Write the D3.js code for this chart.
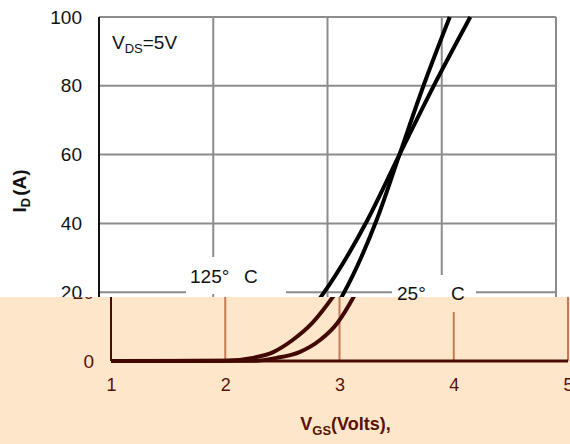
<!DOCTYPE html>
<html><head><meta charset="utf-8">
<script src="https://cdn.jsdelivr.net/npm/d3@7"></script>
<style>body{margin:0;background:#fff}svg{display:block}text{font-family:"Liberation Sans",Arial,sans-serif}</style>
</head><body>
<script>
// ---- data ----
const xTicks = [1, 2, 3, 4, 5];
const yTicks = [0, 20, 40, 60, 80, 100];
const vgs125 = [1.0, 2.0, 2.24, 2.42, 2.59, 2.76, 2.95, 3.35, 3.63, 3.93, 4.25];
const id125  = [0, 0.05, 0.9, 2.6, 6.1, 11.0, 19.0, 41, 60, 80, 100];
const vgs25  = [1.0, 2.25, 2.45, 2.65, 2.83, 2.98, 3.13, 3.43, 3.63, 3.84, 4.07];
const id25   = [0, 0.05, 0.9, 2.6, 6.1, 11.0, 19.0, 41, 60, 80, 100];
const seriesTemps = ["125°", "25°"];
const tempUnit = "C";

const W = 570, H = 444, SPLIT = 297, SHIFT = 12;
const svg = d3.select("body").append("svg").attr("width", W).attr("height", H);
svg.append("rect").attr("width", W).attr("height", H).attr("fill", "#fff");
const defs = svg.append("defs");
defs.append("clipPath").attr("id", "cTop").append("rect").attr("x", 0).attr("y", 0).attr("width", W).attr("height", SPLIT);
defs.append("clipPath").attr("id", "cBot").append("rect").attr("x", 0).attr("y", SPLIT).attr("width", W).attr("height", H - SPLIT);

const x = d3.scaleLinear().domain([1, 5]).range([99, 556]);
const y = d3.scaleLinear().domain([0, 100]).range([361, 17]);

const s125 = vgs125.map((v, i) => [v, id125[i]]);
const s25 = vgs25.map((v, i) => [v, id25[i]]);
const line = d3.line().x(d => x(d[0])).y(d => y(d[1])).curve(d3.curveMonotoneX);

function tempLabel(sel, x0, xc, yb, temp, color) {
  const t = sel.append("text").attr("y", yb).attr("font-size", 19).attr("fill", color);
  t.append("tspan").attr("x", x0).text(temp);
  t.append("tspan").attr("x", xc).text(tempUnit);
}

function drawChart(g, p, withLabelText) {
  g.selectAll(".vg").data(xTicks.slice(1)).join("line")
    .attr("x1", d => x(d)).attr("x2", d => x(d)).attr("y1", y(0)).attr("y2", y(100))
    .attr("stroke", p.grid).attr("stroke-width", 2);
  g.selectAll(".hg").data(yTicks.slice(1)).join("line")
    .attr("x1", x(1)).attr("x2", x(5)).attr("y1", d => y(d)).attr("y2", d => y(d))
    .attr("stroke", p.grid).attr("stroke-width", 2);
  g.append("rect").attr("x", 186).attr("y", 257).attr("width", 100).attr("height", 37).attr("fill", p.bg);
  g.append("rect").attr("x", 392).attr("y", 275).attr("width", 84).attr("height", 37).attr("fill", p.bg);
  if (withLabelText) tempLabel(g, 190, 244, 283, seriesTemps[0], p.text);
  g.append("line").attr("x1", x(1)).attr("x2", x(1)).attr("y1", y(0)).attr("y2", y(100))
    .attr("stroke", p.axis).attr("stroke-width", 2);
  g.append("line").attr("x1", x(1)).attr("x2", x(5)).attr("y1", y(0)).attr("y2", y(0))
    .attr("stroke", p.axis).attr("stroke-width", 3);
  [s125, s25].forEach(s => {
    g.append("path").attr("d", line(s)).attr("fill", "none")
      .attr("stroke", p.curve).attr("stroke-width", 4).attr("stroke-linejoin", "round");
  });
  const ya = g.append("g").attr("transform", `translate(${x(1)},0)`)
    .call(d3.axisLeft(y).tickValues(yTicks).tickSize(0).tickPadding(17).tickFormat(d3.format("d")));
  ya.select(".domain").remove();
  ya.selectAll("text").attr("font-size", 19).attr("fill", p.text).style("font-family", "Liberation Sans, Arial, sans-serif");
  const xa = g.append("g").attr("transform", `translate(0,${y(0)})`)
    .call(d3.axisBottom(x).tickValues(xTicks).tickSize(0).tickPadding(17).tickFormat(d3.format("d")));
  xa.select(".domain").remove();
  xa.selectAll("text").attr("font-size", 18).attr("fill", p.text).style("font-family", "Liberation Sans, Arial, sans-serif");
  const vt = g.append("text").attr("x", 112).attr("y", 49).attr("font-size", 19).attr("fill", p.text);
  vt.append("tspan").text("V");
  vt.append("tspan").attr("font-size", 13).attr("dy", 4).text("DS");
  vt.append("tspan").attr("dy", -4).text("=5V");
  const yt = g.append("text").attr("transform", "translate(26,191) rotate(-90)").attr("text-anchor", "middle")
    .attr("font-size", 19).attr("font-weight", "bold").attr("fill", p.text);
  yt.append("tspan").text("I");
  yt.append("tspan").attr("font-size", 13).attr("dy", 4).text("D");
  yt.append("tspan").attr("dy", -4).attr("dx", 2).text("(A)");
  const xt = g.append("text").attr("x", (x(1) + x(5)) / 2 + 6).attr("y", 430).attr("text-anchor", "middle")
    .attr("font-size", 18).attr("font-weight", "bold").attr("fill", p.text);
  xt.append("tspan").text("V");
  xt.append("tspan").attr("font-size", 13).attr("dy", 5).text("GS");
  xt.append("tspan").attr("dy", -5).text("(Volts),");
}

const topPal = {bg: "#ffffff", grid: "#8c8c8c", axis: "#111111", curve: "#000000", text: "#111111"};
const botPal = {bg: "#fde6c9", grid: "#c67b55", axis: "#4b0b05", curve: "#420804", text: "#5a1208"};

const gTop = svg.append("g").attr("clip-path", "url(#cTop)");
drawChart(gTop, topPal, true);

const gBotOuter = svg.append("g").attr("clip-path", "url(#cBot)");
gBotOuter.append("rect").attr("x", 0).attr("y", SPLIT).attr("width", W).attr("height", H - SPLIT).attr("fill", botPal.bg);
const gBot = gBotOuter.append("g").attr("transform", `translate(${SHIFT},0)`);
drawChart(gBot, botPal, false);

tempLabel(svg, 397, 451, 300, seriesTemps[1], "#111");
</script>
</body></html>
